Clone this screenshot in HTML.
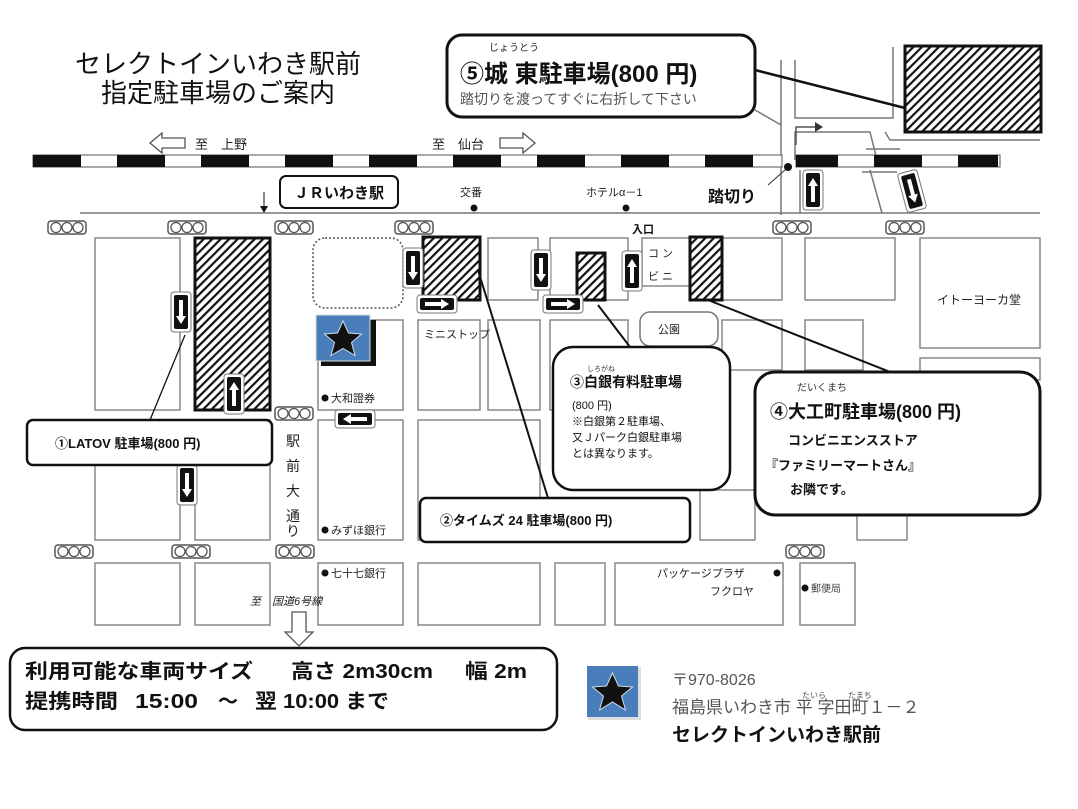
<!DOCTYPE html>
<html><head><meta charset="utf-8">
<style>
html,body{margin:0;padding:0;background:#fff;}
svg{display:block;font-family:"Liberation Sans","Noto Sans CJK JP",sans-serif;}
.b{fill:#fff;stroke:#888;stroke-width:1.5}
.t{font-size:11px;fill:#222}
</style></head><body>
<svg width="1078" height="809" viewBox="0 0 1078 809" xmlns="http://www.w3.org/2000/svg">
<defs>
<pattern id="h" width="6" height="6" patternUnits="userSpaceOnUse" patternTransform="rotate(45)">
<rect width="6" height="6" fill="#fff"/><rect width="2.2" height="6" fill="#111"/></pattern>
<g id="tl"><rect x="0" y="0" width="38" height="13" rx="3" fill="#fff" stroke="#555" stroke-width="1.5"/><circle cx="8" cy="6.5" r="5" fill="#fff" stroke="#555" stroke-width="1.3"/><circle cx="19" cy="6.5" r="5" fill="#fff" stroke="#555" stroke-width="1.3"/><circle cx="30" cy="6.5" r="5" fill="#fff" stroke="#555" stroke-width="1.3"/></g>
<g id="dn"><rect x="-10" y="-20" width="20" height="40" rx="3" fill="#fff" stroke="#777"/><rect x="-7" y="-17" width="14" height="34" rx="2" fill="#111"/><path d="M-2,-12 h4 v16 h3 l-5,8 l-5,-8 h3z" fill="#fff"/></g>
<g id="rt"><rect x="-20" y="-9" width="40" height="18" rx="3" fill="#fff" stroke="#777"/><rect x="-17" y="-6" width="34" height="12" rx="2" fill="#111"/><path d="M-12,-2 h16 v-3 l8,5 l-8,5 v-3 h-16z" fill="#fff"/></g>
</defs>

<!-- title -->
<text x="218" y="73" font-size="26" text-anchor="middle" fill="#111">セレクトインいわき駅前</text>
<text x="218" y="102" font-size="26" text-anchor="middle" fill="#111">指定駐車場のご案内</text>

<!-- top right roads -->
<g stroke="#777" stroke-width="1.5" fill="none">
<path d="M781,60 V215"/><path d="M795,60 V118 H893 V47"/>
<path d="M795,160 V132 H870 L877,160"/><path d="M885,132 L890,140 H1040"/>
<path d="M755,110 L781,125"/>
<path d="M870,170 L882,213"/><path d="M862,172 H897"/><path d="M866,149 H900"/>
<path d="M800,170 L800,213"/>
</g>
<path d="M796,145 V127 H815" stroke="#555" stroke-width="1.5" fill="none"/><path d="M815,122 l8,5 l-8,5z" fill="#333"/>
<rect x="905" y="46" width="136" height="86" fill="url(#h)" stroke="#111" stroke-width="3"/>
<line x1="755" y1="70" x2="905" y2="108" stroke="#111" stroke-width="2.5"/>

<!-- box 5 -->
<rect x="447" y="35" width="308" height="82" rx="15" fill="#fff" stroke="#111" stroke-width="3"/>
<text x="489" y="51" font-size="10" fill="#222">じょうとう</text>
<text x="460" y="82" font-size="24" font-weight="bold" fill="#111">⑤城 東駐車場(800 円)</text>
<text x="460" y="104" font-size="14" fill="#555">踏切りを渡ってすぐに右折して下さい</text>

<!-- direction arrows -->
<path d="M185,138 H162 V133 L150,143 L162,153 V148 H185Z" fill="#fff" stroke="#555" stroke-width="1.3"/>
<text x="195" y="149" font-size="13" fill="#222">至　上野</text>
<text x="432" y="149" font-size="13" fill="#222">至　仙台</text>
<path d="M500,138 H523 V133 L535,143 L523,153 V148 H500Z" fill="#fff" stroke="#555" stroke-width="1.3"/>

<!-- track -->
<rect x="33" y="155" width="749" height="12" fill="#fff" stroke="#555"/>
<rect x="796" y="155" width="204" height="12" fill="#fff" stroke="#555"/>
<g fill="#111">
<rect x="33" y="155" width="48" height="12"/><rect x="117" y="155" width="48" height="12"/><rect x="201" y="155" width="48" height="12"/><rect x="285" y="155" width="48" height="12"/><rect x="369" y="155" width="48" height="12"/><rect x="453" y="155" width="48" height="12"/><rect x="537" y="155" width="48" height="12"/><rect x="621" y="155" width="48" height="12"/><rect x="705" y="155" width="48" height="12"/><rect x="796" y="155" width="42" height="12"/><rect x="874" y="155" width="48" height="12"/><rect x="958" y="155" width="40" height="12"/>
</g>
<circle cx="788" cy="167" r="4" fill="#111"/><line x1="785" y1="170" x2="768" y2="185" stroke="#333"/>

<!-- road line -->
<line x1="80" y1="213" x2="1040" y2="213" stroke="#777" stroke-width="1.5"/>
<line x1="264" y1="192" x2="264" y2="210" stroke="#111"/><path d="M260,206 l4,7 l4,-7z" fill="#111"/>
<rect x="280" y="176" width="118" height="32" rx="6" fill="#fff" stroke="#111" stroke-width="2"/>
<text x="339" y="198" font-size="15" font-weight="bold" text-anchor="middle" fill="#111">ＪＲいわき駅</text>
<text x="460" y="196" class="t">交番</text><circle cx="474" cy="208" r="3.5" fill="#111"/>
<text x="586" y="196" class="t">ホテルα－1</text><circle cx="626" cy="208" r="3.5" fill="#111"/>
<text x="708" y="202" font-size="16" font-weight="bold" fill="#111">踏切り</text>

<!-- traffic lights -->
<use href="#tl" x="48" y="221"/><use href="#tl" x="168" y="221"/><use href="#tl" x="275" y="221"/><use href="#tl" x="395" y="221"/><use href="#tl" x="773" y="221"/><use href="#tl" x="886" y="221"/>
<use href="#tl" x="275" y="407"/>
<use href="#tl" x="55" y="545"/><use href="#tl" x="172" y="545"/><use href="#tl" x="276" y="545"/><use href="#tl" x="786" y="545"/>

<!-- blocks -->
<g class="b">
<rect x="95" y="238" width="85" height="172"/><rect x="95" y="420" width="85" height="120"/><rect x="95" y="563" width="85" height="62"/>
<rect x="195" y="420" width="75" height="120"/><rect x="195" y="563" width="75" height="62"/>
<rect x="318" y="320" width="85" height="90"/><rect x="318" y="420" width="85" height="120"/><rect x="318" y="563" width="85" height="62"/>
<rect x="418" y="320" width="62" height="90"/><rect x="418" y="420" width="122" height="120"/><rect x="418" y="563" width="122" height="62"/>
<rect x="488" y="238" width="50" height="62"/><rect x="488" y="320" width="52" height="90"/>
<rect x="550" y="238" width="78" height="62"/><rect x="550" y="320" width="78" height="90"/><rect x="555" y="563" width="50" height="62"/>
<rect x="642" y="238" width="48" height="48"/><rect x="722" y="238" width="60" height="62"/>
<rect x="722" y="320" width="60" height="50"/>
<rect x="805" y="238" width="90" height="62"/><rect x="805" y="320" width="58" height="50"/>
<rect x="920" y="238" width="120" height="110"/><rect x="920" y="358" width="120" height="22"/>
<rect x="615" y="563" width="168" height="62"/><rect x="800" y="563" width="55" height="62"/>
<rect x="700" y="490" width="55" height="50"/><rect x="857" y="515" width="50" height="25"/>
</g>
<rect x="313" y="238" width="90" height="70" rx="12" fill="#fff" stroke="#555" stroke-width="1.5" stroke-dasharray="2,2"/>
<rect x="640" y="312" width="78" height="34" rx="10" fill="#fff" stroke="#777" stroke-width="1.5"/>
<text x="658" y="333" class="t">公園</text>

<!-- hatched -->
<rect x="195" y="238" width="75" height="172" fill="url(#h)" stroke="#111" stroke-width="3"/>
<rect x="423" y="237" width="57" height="63" fill="url(#h)" stroke="#111" stroke-width="3"/>
<rect x="577" y="253" width="28" height="47" fill="url(#h)" stroke="#111" stroke-width="3"/>
<rect x="690" y="237" width="32" height="63" fill="url(#h)" stroke="#111" stroke-width="3"/>

<!-- star -->
<rect x="321" y="320" width="55" height="46" fill="#111"/>
<rect x="316" y="315" width="54" height="46" fill="#4a7ebb" stroke="#ddd"/>
<path d="M343,321 l5.5,12 13,1 -10,8.5 3.5,13 -12,-7 -12,7 3.5,-13 -10,-8.5 13,-1z" fill="#111" stroke="#cde" stroke-width="1"/>

<!-- one-way signs -->
<use href="#dn" x="181" y="312"/><use href="#dn" x="234" y="394" transform="rotate(180 234 394)"/>
<use href="#dn" x="187" y="485"/><use href="#dn" x="413" y="268"/><use href="#dn" x="541" y="270"/>
<use href="#dn" x="632" y="271" transform="rotate(180 632 271)"/>
<use href="#dn" x="813" y="190" transform="rotate(180 813 190)"/>
<use href="#dn" x="912" y="191" transform="rotate(-15 912 191)"/>
<use href="#rt" x="437" y="304"/><use href="#rt" x="563" y="304"/>
<use href="#rt" x="355" y="419" transform="rotate(180 355 419)"/>

<!-- labels -->
<text x="632" y="233" font-size="11" font-weight="bold" fill="#111">入口</text>
<text x="648" y="257" class="t" fill="#666">コ ン</text><text x="648" y="280" class="t" fill="#666">ビ ニ</text>
<text x="424" y="338" class="t">ミニストップ</text>
<text x="937" y="304" font-size="12" fill="#222">イトーヨーカ堂</text>
<circle cx="325" cy="398" r="3.5" fill="#111"/><text x="331" y="402" class="t">大和證券</text>
<circle cx="325" cy="530" r="3.5" fill="#111"/><text x="331" y="534" class="t">みずほ銀行</text>
<circle cx="325" cy="573" r="3.5" fill="#111"/><text x="331" y="577" class="t">七十七銀行</text>
<text x="657" y="577" class="t">パッケージプラザ</text><circle cx="777" cy="573" r="3.5" fill="#111"/>
<text x="710" y="595" class="t">フクロヤ</text>
<circle cx="805" cy="588" r="3.5" fill="#111"/><text x="811" y="592" font-size="10" fill="#444">郵便局</text>
<text x="250" y="605" font-size="11" font-style="italic" fill="#222">至　国道6号線</text>
<path d="M292,612 h14 v20 h7 l-14,14 l-14,-14 h7z" fill="#fff" stroke="#555" stroke-width="1.3"/>
<g font-size="14" fill="#222" text-anchor="middle"><text x="293" y="446">駅</text><text x="293" y="471">前</text><text x="293" y="496">大</text><text x="293" y="521">通</text><text x="293" y="536">り</text></g>

<!-- callout lines -->
<g stroke="#111" stroke-width="2" fill="none">
<line x1="150" y1="420" x2="185" y2="335" stroke-width="1.3"/>
<line x1="548" y1="498" x2="478" y2="270"/>
<line x1="630" y1="347" x2="598" y2="305"/>
<line x1="890" y1="372" x2="708" y2="300"/>
</g>

<!-- box 1 -->
<rect x="27" y="420" width="245" height="45" rx="6" fill="#fff" stroke="#111" stroke-width="2.5"/>
<text x="55" y="448" font-size="13" font-weight="bold" fill="#111">①LATOV 駐車場(800 円)</text>
<!-- box 2 -->
<rect x="420" y="498" width="270" height="44" rx="6" fill="#fff" stroke="#111" stroke-width="2.5"/>
<text x="440" y="525" font-size="13" font-weight="bold" fill="#111">②タイムズ 24 駐車場(800 円)</text>
<!-- box 3 -->
<rect x="553" y="347" width="177" height="143" rx="20" fill="#fff" stroke="#111" stroke-width="2.5"/>
<text x="587" y="371" font-size="7" fill="#333">しろがね</text>
<text x="570" y="387" font-size="14" font-weight="bold" fill="#111">③白銀有料駐車場</text>
<g font-size="11" fill="#111"><text x="572" y="409">(800 円)</text><text x="572" y="425">※白銀第２駐車場、</text><text x="572" y="441">又Ｊパーク白銀駐車場</text><text x="572" y="457">とは異なります。</text></g>
<!-- box 4 -->
<rect x="755" y="372" width="285" height="143" rx="20" fill="#fff" stroke="#111" stroke-width="3"/>
<text x="797" y="391" font-size="10" fill="#333">だいくまち</text>
<text x="770" y="418" font-size="18" font-weight="bold" fill="#111">④大工町駐車場(800 円)</text>
<g font-size="13" fill="#111" font-weight="bold"><text x="788" y="445">コンビニエンスストア</text><text x="765" y="470">『ファミリーマートさん』</text><text x="790" y="494">お隣です。</text></g>

<!-- bottom box -->
<rect x="10" y="648" width="547" height="82" rx="15" fill="#fff" stroke="#111" stroke-width="2.5"/>
<g font-size="20" font-weight="bold" fill="#111">
<text x="25" y="678" textLength="228" lengthAdjust="spacingAndGlyphs">利用可能な車両サイズ</text>
<text x="291" y="678" textLength="142" lengthAdjust="spacingAndGlyphs">高さ 2m30cm</text>
<text x="465" y="678" textLength="62" lengthAdjust="spacingAndGlyphs">幅 2m</text>
<text x="25" y="708" textLength="93" lengthAdjust="spacingAndGlyphs">提携時間</text>
<text x="135" y="708" textLength="63" lengthAdjust="spacingAndGlyphs">15:00</text>
<text x="218" y="708">～</text>
<text x="255" y="708" textLength="134" lengthAdjust="spacingAndGlyphs">翌 10:00 まで</text>
</g>

<!-- address -->
<rect x="588" y="667" width="53" height="53" fill="#ddd"/>
<rect x="587" y="666" width="51" height="51" fill="#4a7ebb"/>
<path d="M612.5,673 l6,13 14,1 -11,9 4,14 -13,-8 -13,8 4,-14 -11,-9 14,-1z" fill="#111" stroke="#cde"/>
<text x="672" y="685" font-size="16" fill="#555">〒970-8026</text>
<text x="802" y="698" font-size="8" fill="#555">たいら</text><text x="848" y="698" font-size="8" fill="#555">たまち</text>
<text x="672" y="713" font-size="17" fill="#555">福島県いわき市 平 字田町１－２</text>
<text x="672" y="741" font-size="19" font-weight="bold" fill="#111">セレクトインいわき駅前</text>
</svg>
</body></html>
